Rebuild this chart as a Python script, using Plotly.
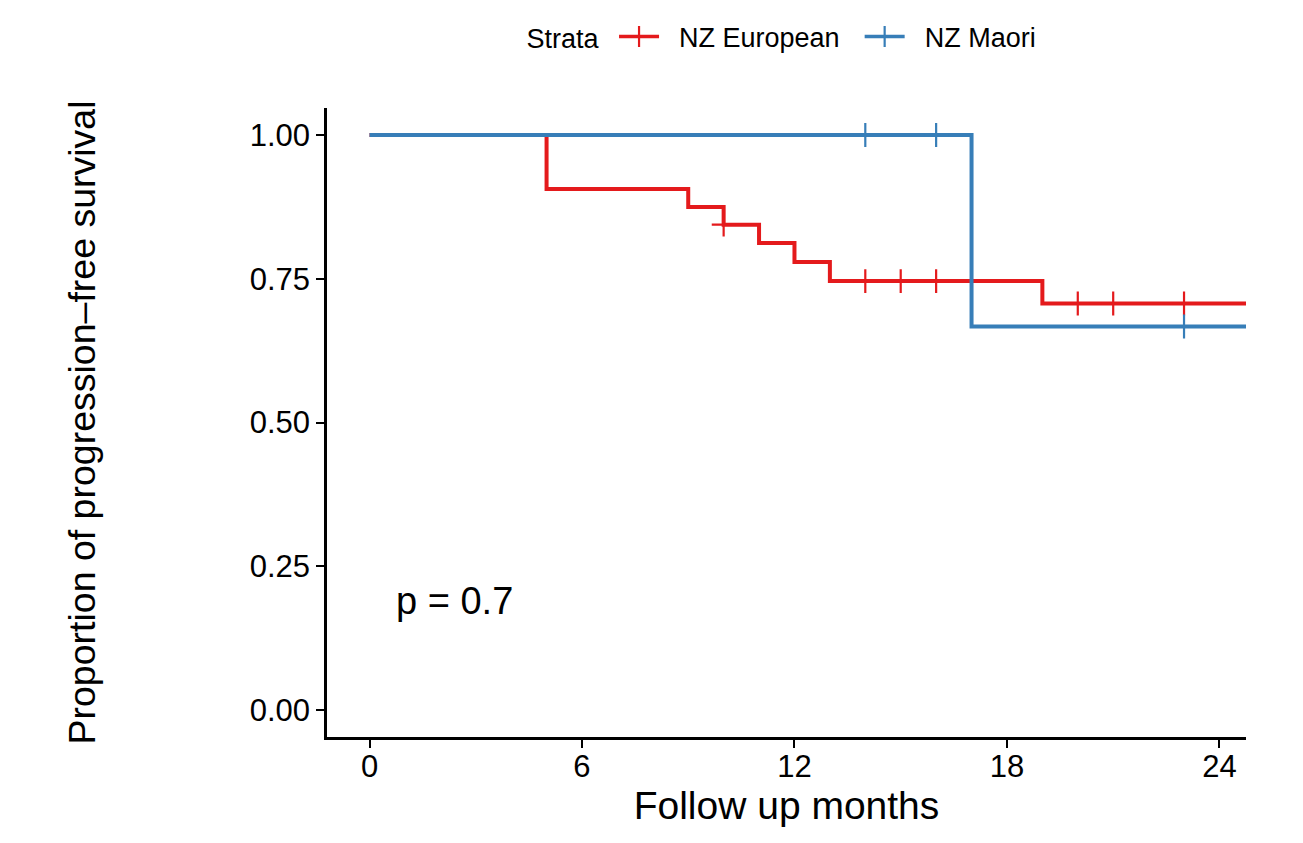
import plotly.graph_objects as go

# Kaplan-Meier step data (months, survival)
eu_times = [0, 5, 9, 10, 11, 12, 13, 19, 26]
eu_surv = [1.0, 0.906, 0.875, 0.844, 0.812, 0.779, 0.746, 0.707, 0.707]
eu_cens_t = [10, 14, 15, 16, 20, 21, 23]
eu_cens_s = [0.844, 0.746, 0.746, 0.746, 0.707, 0.707, 0.707]

mao_times = [0, 17, 26]
mao_surv = [1.0, 0.667, 0.667]
mao_cens_t = [14, 16, 23]
mao_cens_s = [1.0, 1.0, 0.667]

x_ticks = [0, 6, 12, 18, 24]
y_ticks = [0, 0.25, 0.5, 0.75, 1.0]
y_tick_labels = ["0.00", "0.25", "0.50", "0.75", "1.00"]

RED = "#E41A1C"
BLUE = "#377EB8"
FONT = "Liberation Sans"
NB = "\u00a0"

fig = go.Figure()

for name, t, s, ct, cs, col, trail in [
    ("NZ European", eu_times, eu_surv, eu_cens_t, eu_cens_s, RED, 2),
    ("NZ Maori", mao_times, mao_surv, mao_cens_t, mao_cens_s, BLUE, 1),
]:
    fig.add_trace(go.Scatter(x=t, y=s, mode="lines", line=dict(color=col, width=4, shape="hv"),
                             showlegend=False, hoverinfo="skip"))
    fig.add_trace(go.Scatter(x=ct, y=cs, mode="markers",
                             marker=dict(symbol="cross-thin", size=17, line=dict(color=col, width=2.2)),
                             showlegend=False))
    # legend entry
    fig.add_trace(go.Scatter(x=[None], y=[None], mode="lines+markers", name=NB * 2 + name + NB * trail,
                             line=dict(color=col, width=3.5),
                             marker=dict(symbol="cross-thin", size=15, line=dict(color=col, width=2.2))))

fig.add_annotation(x=0.68, y=0.19, xref="x", yref="y", text="p = 0.7", showarrow=False,
                   xanchor="left", yanchor="middle", font=dict(family=FONT, size=38, color="black"))

# page body has an 8px margin; compensate so the plot lands where the reference has it
fig.update_layout(
    width=1295, height=835,
    paper_bgcolor="white", plot_bgcolor="white",
    margin=dict(l=319, r=57, t=100, b=106, autoexpand=False),
    font=dict(family=FONT, color="black"),
    legend=dict(orientation="h", x=0.5, xanchor="center", y=1.113, yanchor="middle",
                title=dict(text="Strata" + NB, font=dict(size=27, family=FONT)),
                font=dict(size=27, family=FONT), itemwidth=40, tracegroupgap=0),
    xaxis=dict(range=[-1.2, 24.75], tickvals=x_ticks, ticktext=[str(v) for v in x_ticks],
               showgrid=False, zeroline=False, showline=True, linecolor="black", linewidth=2.5,
               ticks="outside", ticklen=8, tickwidth=2, tickcolor="black",
               tickfont=dict(size=31, family=FONT), ticklabelstandoff=-8,
               title=dict(text="Follow up months", font=dict(size=39, family=FONT), standoff=0)),
    yaxis=dict(range=[-0.047, 1.047], tickvals=y_ticks, ticktext=y_tick_labels,
               showgrid=False, zeroline=False, showline=True, linecolor="black", linewidth=2.5,
               ticks="outside", ticklen=8, tickwidth=2, tickcolor="black",
               tickfont=dict(size=31, family=FONT),
               title=dict(text="Proportion of progression\u2013free survival",
                          font=dict(size=37.5, family=FONT), standoff=143)),
)

fig.write_html("out.html")
